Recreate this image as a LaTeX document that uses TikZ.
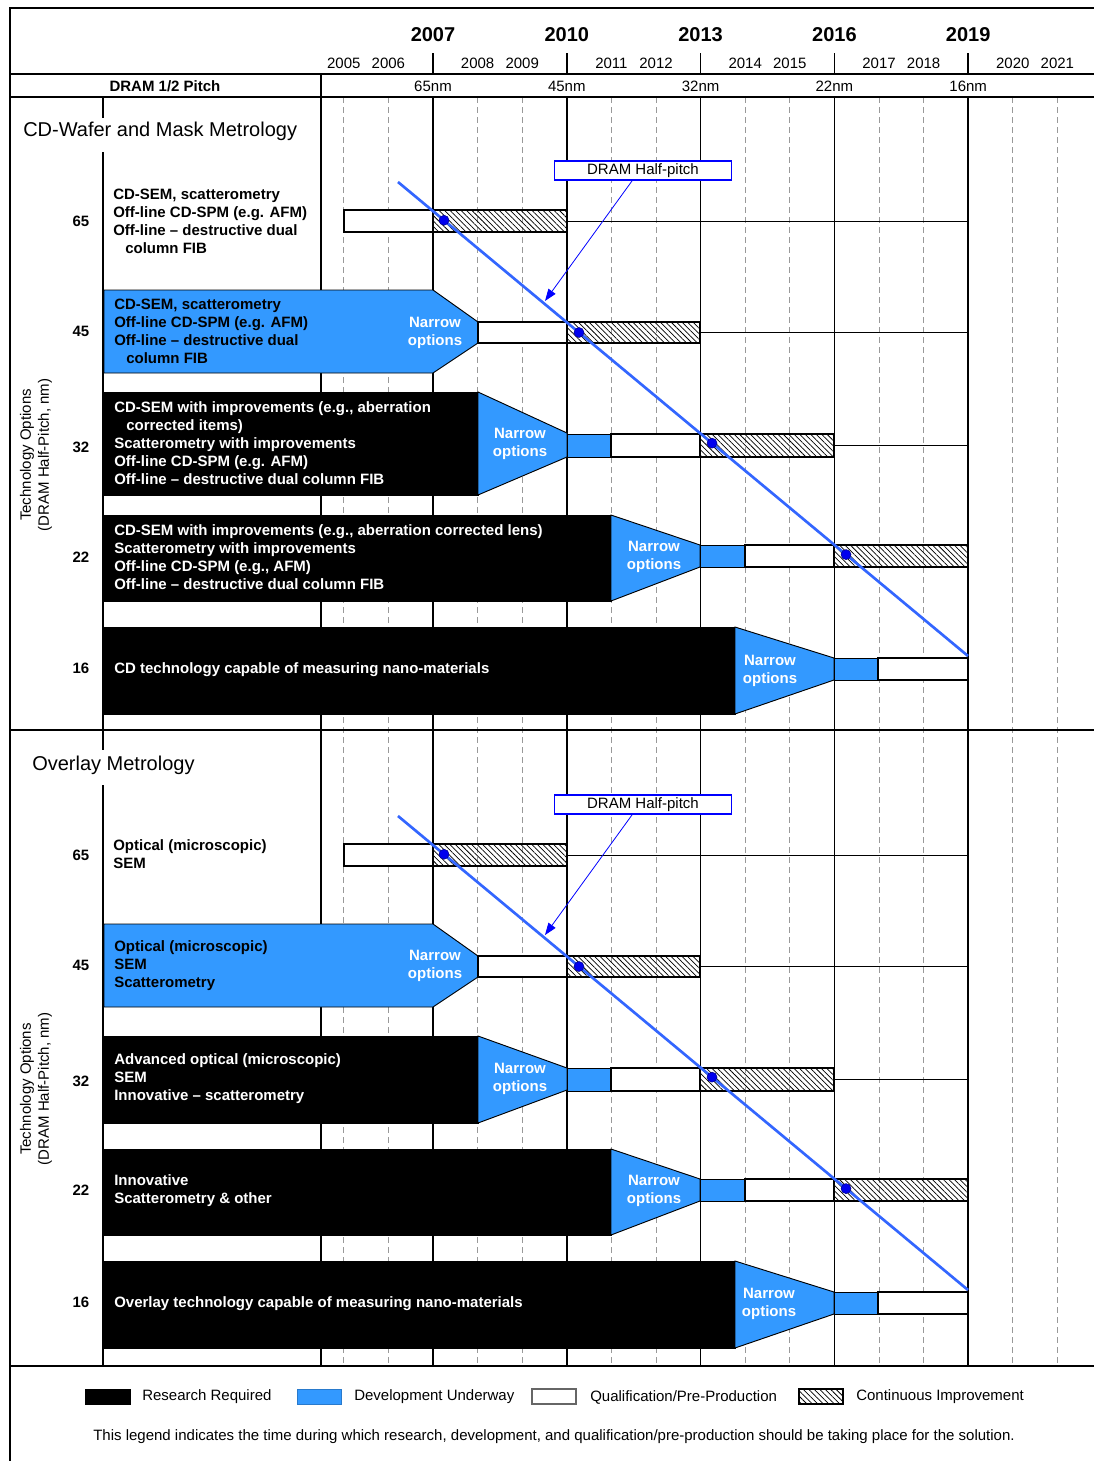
\documentclass[tikz,border=0pt,11pt]{standalone}
\usepackage{fontspec}
\setmainfont{Liberation Sans}
\usetikzlibrary{arrows.meta,calc,patterns.meta}
\definecolor{devblue}{HTML}{3399FF}
\definecolor{hpblue}{HTML}{3366FF}
\definecolor{dotblue}{HTML}{0000EE}
\definecolor{boxblue}{HTML}{0000FF}
\definecolor{gridg}{HTML}{999999}
\newcommand\cfont{\fontsize{11.25}{13.5}\selectfont}
\tikzset{
  framel/.style={line width=2.1pt, draw=black},
  colln/.style={line width=1.5pt, draw=black},
  yearln/.style={line width=1.3pt, draw=black},
  gridln/.style={line width=0.6pt, draw=gridg, dash pattern=on 4.5pt off 3pt},
  rowln/.style={line width=0.7pt, draw=black},
  research/.style={fill=black, draw=black, line width=0.7pt},
  devel/.style={fill=devblue, draw=black, line width=0.7pt},
  qual/.style={fill=white, draw=black, line width=0.9pt},
  contimp/.style={draw=black, line width=0.9pt,
                  pattern={Lines[angle=-45,distance=2.9pt,line width=0.55pt]}},
  hpline/.style={draw=hpblue, line width=2pt},
  hpdot/.style={circle, fill=dotblue, draw=dotblue!60!black, line width=0.4pt,
                inner sep=0pt, minimum size=7.5pt},
  hpbox/.style={draw=boxblue, line width=1.4pt, fill=white, inner sep=0pt, font=\cfont,
                minimum width=132.75pt, minimum height=14.25pt},
  hparrow/.style={draw=boxblue, line width=0.6pt, -{Triangle[length=9pt,width=6.5pt]}},
  txt/.style={font=\cfont, inner sep=0pt},
  bigyear/.style={font=\fontsize{15}{18}\selectfont\bfseries, inner sep=0pt},
  titletxt/.style={font=\fontsize{15}{18}\selectfont, anchor=west, inner sep=0pt},
  rowlbl/.style={font=\cfont\bfseries, inner sep=0pt},
  opt/.style={font=\cfont\bfseries, align=left, anchor=west, inner sep=0pt},
  optw/.style={opt, text=white},
  narrow/.style={font=\cfont\bfseries, align=center, text=white, inner sep=0pt},
  legtxt/.style={txt, anchor=west},
}

\begin{document}
\begin{tikzpicture}[x=0.75pt, y=-0.75pt]
  \useasboundingbox (0,0) rectangle (1094,1461);
  \fill[white] (0,0) rectangle (1094,1461);

  % year grid
  \foreach \yr in {2005,2006,2008,2009,2011,2012,2014,2015,2017,2018,2020,2021} {
    \draw[gridln] ({433+(\yr-2007)*44.6},97) -- ({433+(\yr-2007)*44.6},1366);
    \node[txt] (s\yr) at ({433+(\yr-2007)*44.6},63) {\yr};
  }
  \foreach \yr/\nm in {2007/65,2010/45,2013/32,2016/22,2019/16} {
    \draw[yearln] ({433+(\yr-2007)*44.6},97) -- ({433+(\yr-2007)*44.6},1366);
    \draw[yearln] ({433+(\yr-2007)*44.6},53) -- ({433+(\yr-2007)*44.6},74);
    \node[bigyear] (y\yr) at ({433+(\yr-2007)*44.6},35) {\yr};
    \node[txt] (p\nm) at ({433+(\yr-2007)*44.6},86) {\nm nm};
  }

  % frame
  \draw[framel] (10,1461) -- (10,8) -- (1094,8);
  \foreach \yy in {74,97,730,1366} \draw[framel] (10,\yy) -- (1094,\yy);
  \draw[framel] (321,74) -- (321,1366);
  \draw[colln] (103,97) -- (103,118) (103,152) -- (103,750) (103,785) -- (103,1366);
  \node[rowlbl] (pitch) at (165,86) {DRAM 1/2 Pitch};

  % option shapes, section 1
  \draw[devel] (104,290) -- (433,290) -- (478,322) -- (478,343) -- (433,373) -- (104,373) -- cycle;
  \draw[research] (104,392) rectangle (478,495);
  \draw[devel] (478,392) -- (567,433) -- (567,457) -- (478,495) -- cycle;
  \draw[research] (104,515) rectangle (611,601);
  \draw[devel] (611,515) -- (700,545) -- (700,567) -- (611,601) -- cycle;
  \draw[research] (104,627) rectangle (735,714);
  \draw[devel] (735,627) -- (834,658) -- (834,680) -- (735,714) -- cycle;

  % option shapes, section 2
  \draw[devel] (104,924) -- (433,924) -- (478,956) -- (478,977) -- (433,1007) -- (104,1007) -- cycle;
  \draw[research] (104,1036) rectangle (478,1123);
  \draw[devel] (478,1036) -- (567,1068) -- (567,1090) -- (478,1123) -- cycle;
  \draw[research] (104,1149) rectangle (611,1235);
  \draw[devel] (611,1149) -- (700,1179) -- (700,1201) -- (611,1235) -- cycle;
  \draw[research] (104,1261) rectangle (735,1348);
  \draw[devel] (735,1261) -- (834,1292) -- (834,1314) -- (735,1348) -- cycle;

  % bars, half-pitch line and callout (same in both sections)
  \foreach \sec/\dy in {1/0,2/634} {
    \begin{scope}[shift={(0,\dy)}]
      \draw[qual] (344,210) rectangle (433,232);
      \draw[contimp] (433,210) rectangle (567,232);
      \draw[rowln] (567,221) -- (968,221);
      \draw[qual] (478,322) rectangle (567,343);
      \draw[contimp] (567,322) rectangle (700,343);
      \draw[rowln] (700,332.5) -- (968,332.5);
      \draw[devel] (567,434) rectangle (611,457);
      \draw[qual] (611,434) rectangle (700,457);
      \draw[contimp] (700,434) rectangle (834,457);
      \draw[rowln] (834,445) -- (968,445);
      \draw[devel] (700,545) rectangle (745,567);
      \draw[qual] (745,545) rectangle (834,567);
      \draw[contimp] (834,545) rectangle (968,567);
      \draw[devel] (834,658) rectangle (878,680);
      \draw[qual] (878,658) rectangle (968,680);
      \coordinate (hs\sec) at (398,182);
      \coordinate (he\sec) at (968,656);
      \draw[hpline] (hs\sec) -- (he\sec);
      \foreach \t [count=\k] in {0.0807,0.3175,0.5509,0.786}
        \node[hpdot] (dot\sec\k) at ($(hs\sec)!\t!(he\sec)$) {};
      \node[hpbox] (hp\sec) at (643,170.5) {DRAM Half-pitch};
      \coordinate (tip\sec) at (545,301);
      \draw[hparrow] ($(hp\sec.south)+(-11,0)$) -- (tip\sec);
    \end{scope}
  }

  % section 1 texts
  \node[titletxt] (t1) at (23,131) {CD-Wafer and Mask Metrology};
  \node[txt, rotate=90, align=center] (ax1) at (36,455) {Technology Options\\(DRAM Half-Pitch, nm)};
  \node[rowlbl] (r65a) at (81,221) {65};
  \node[rowlbl] (r45a) at (81,331) {45};
  \node[rowlbl] (r32a) at (81,447) {32};
  \node[rowlbl] (r22a) at (81,557) {22};
  \node[rowlbl] (r16a) at (81,668) {16};
  \node[opt] (o65a) at (113,221) {CD-SEM, scatterometry\\Off-line CD-SPM (e.g. AFM)\\Off-line -- destructive dual\\\hspace*{9pt}column FIB};
  \node[opt] (o45a) at (114,331.5) {CD-SEM, scatterometry\\Off-line CD-SPM (e.g. AFM)\\Off-line -- destructive dual\\\hspace*{9pt}column FIB};
  \node[optw] (o32a) at (114,443.5) {CD-SEM with improvements (e.g., aberration\\\hspace*{9pt}corrected items)\\Scatterometry with improvements\\Off-line CD-SPM (e.g. AFM)\\Off-line -- destructive dual column FIB};
  \node[optw] (o22a) at (114,557) {CD-SEM with improvements (e.g., aberration corrected lens)\\Scatterometry with improvements\\Off-line CD-SPM (e.g., AFM)\\Off-line -- destructive dual column FIB};
  \node[optw] (o16a) at (114,670) {CD technology capable of measuring nano-materials};
  \node[narrow] (n45a) at (435,333) {Narrow\\options};
  \node[narrow] (n32a) at (520,444) {Narrow\\options};
  \node[narrow] (n22a) at (654,557) {Narrow\\options};
  \node[narrow] (n16a) at (770,671) {Narrow\\options};

  % section 2 texts
  \node[titletxt] (t2) at (32,765) {Overlay Metrology};
  \node[txt, rotate=90, align=center] (ax2) at (36,1089) {Technology Options\\(DRAM Half-Pitch, nm)};
  \node[rowlbl] (r65b) at (81,855) {65};
  \node[rowlbl] (r45b) at (81,965) {45};
  \node[rowlbl] (r32b) at (81,1081) {32};
  \node[rowlbl] (r22b) at (81,1190) {22};
  \node[rowlbl] (r16b) at (81,1302) {16};
  \node[opt] (o65b) at (113,854) {Optical (microscopic)\\SEM};
  \node[opt] (o45b) at (114,965.5) {Optical (microscopic)\\SEM\\Scatterometry};
  \node[optw] (o32b) at (114,1079) {Advanced optical (microscopic)\\SEM\\Innovative -- scatterometry};
  \node[optw] (o22b) at (114,1191) {Innovative\\Scatterometry \& other};
  \node[optw] (o16b) at (114,1304) {Overlay technology capable of measuring nano-materials};
  \node[narrow] (n45b) at (435,966) {Narrow\\options};
  \node[narrow] (n32b) at (520,1079) {Narrow\\options};
  \node[narrow] (n22b) at (654,1191) {Narrow\\options};
  \node[narrow] (n16b) at (769,1304) {Narrow\\options};

  % legend
  \draw[research] (85,1389) rectangle (130,1404);
  \node[legtxt] (lg1) at (142,1397) {Research Required};
  \draw[devel, draw=devblue!80!black] (297,1389) rectangle (341,1404);
  \node[legtxt] (lg2) at (354,1397) {Development Underway};
  \draw[qual, draw=black!60] (532,1389) rectangle (576,1404);
  \node[legtxt] (lg3) at (590,1397) {Qualification/Pre-Production};
  \draw[contimp] (799,1389) rectangle (843,1404);
  \node[legtxt] (lg4) at (856,1397) {Continuous Improvement};
  \node[txt] (note) at (554,1437) {This legend indicates the time during which research, development, and qualification/pre-production should be taking place for the solution.};
\end{tikzpicture}
\end{document}
